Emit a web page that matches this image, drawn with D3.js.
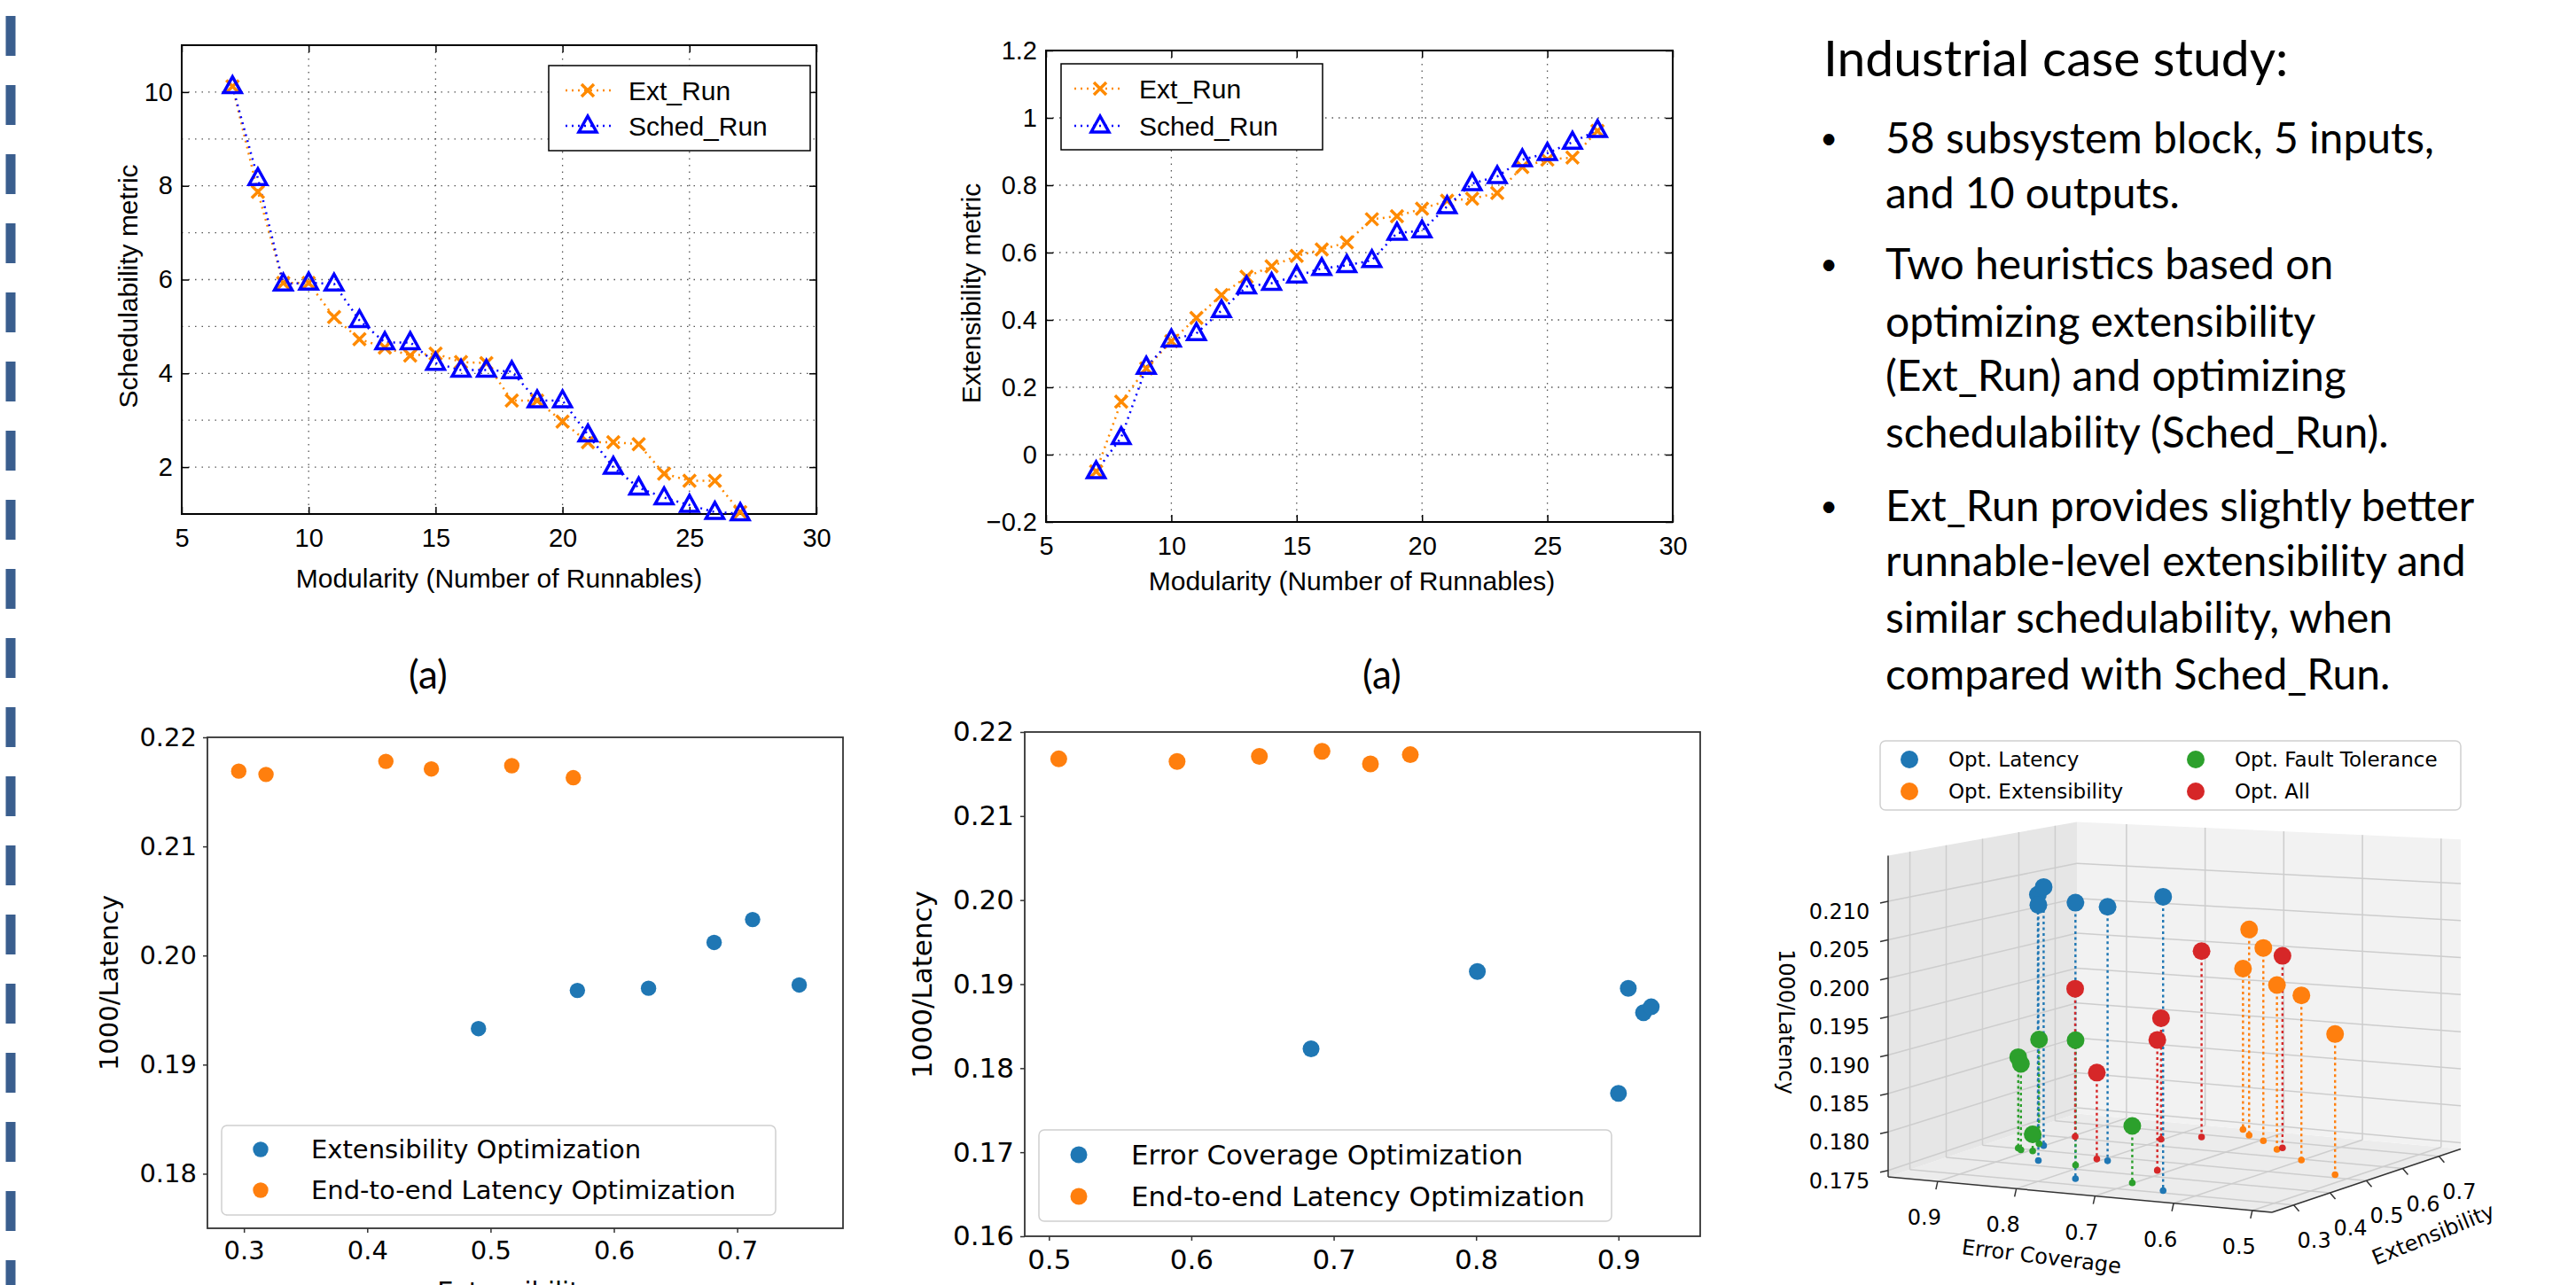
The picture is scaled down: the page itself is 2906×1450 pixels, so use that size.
<!DOCTYPE html>
<html>
<head>
<meta charset="utf-8">
<script src="https://cdn.jsdelivr.net/npm/d3@7"></script>
<style>
  html, body { margin: 0; padding: 0; background: #fff; }
  svg { display: block; }
  .matlab text { font-family: "Liberation Sans", Arial, sans-serif; font-size: 30px; fill: #000; }
  .matlab .tick text { font-size: 29px; }
  .mpl text { font-family: "DejaVu Sans", sans-serif; fill: #000; }
  .slide text { font-family: Lato, "Open Sans", sans-serif; fill: #000; }
</style>
</head>
<body>
<div id="slide"></div>
<script>
// ---------------- data ----------------
const runnables = [7, 8, 9, 10, 11, 12, 13, 14, 15, 16, 17, 18, 19, 20, 21, 22, 23, 24, 25, 26, 27];

// (a) schedulability metric
const schedExtRun   = [10.12, 7.87, 5.93, 5.93, 5.20, 4.73, 4.55, 4.38, 4.42, 4.24, 4.22, 3.42, 3.42, 2.97, 2.53, 2.53, 2.49, 1.86, 1.71, 1.71, 1.04];
const schedSchedRun = [10.12, 8.16, 5.91, 5.93, 5.91, 5.13, 4.66, 4.66, 4.22, 4.07, 4.07, 4.04, 3.42, 3.42, 2.69, 2.00, 1.56, 1.35, 1.19, 1.04, 1.01];

// (a) extensibility metric
const extExtRun   = [-0.05, 0.157, 0.256, 0.337, 0.406, 0.474, 0.528, 0.559, 0.590, 0.609, 0.630, 0.699, 0.708, 0.730, 0.754, 0.760, 0.777, 0.854, 0.876, 0.882, 0.961];
const extSchedRun = [-0.05, 0.051, 0.260, 0.341, 0.360, 0.428, 0.499, 0.509, 0.531, 0.553, 0.562, 0.577, 0.658, 0.665, 0.737, 0.805, 0.826, 0.876, 0.895, 0.928, 0.963];

// latency vs extensibility
const extOptExt = [0.4902, 0.5704, 0.6281, 0.6813, 0.7125, 0.7503];
const extOptLat = [0.1933, 0.1968, 0.1970, 0.2012, 0.2033, 0.1973];
const latOptExt = [0.2958, 0.3179, 0.4151, 0.4520, 0.5172, 0.5671];
const latOptLatA = [0.2169, 0.2166, 0.2178, 0.2171, 0.2174, 0.2163];

// latency vs error coverage
const ecOptEc  = [0.6841, 0.8009, 0.9069, 0.9176, 0.9230, 0.9000];
const ecOptLat = [0.1823, 0.1915, 0.1895, 0.1866, 0.1873, 0.1770];
const latOptEc   = [0.5069, 0.5900, 0.6478, 0.6918, 0.7258, 0.7538];
const latOptLatB = [0.2168, 0.2165, 0.2171, 0.2177, 0.2162, 0.2173];

// 3d scatter: error coverage, extensibility, 1000/latency
const optLatency3d = { ec: [0.901, 0.930, 0.862, 0.771, 0.792, 0.648], ext: [0.534, 0.581, 0.435, 0.340, 0.474, 0.315], lat: [0.2094, 0.2077, 0.2082, 0.2100, 0.2080, 0.2117] };
const optExt3d     = { ec: [0.727, 0.696, 0.750, 0.657, 0.601, 0.524], ext: [0.723, 0.695, 0.756, 0.648, 0.594, 0.520], lat: [0.2026, 0.2006, 0.1966, 0.1964, 0.1961, 0.1925] };
const optFault3d   = { ec: [0.911, 0.811, 0.919, 0.911, 0.896, 0.702], ext: [0.543, 0.427, 0.503, 0.493, 0.493, 0.347], lat: [0.1884, 0.1907, 0.1865, 0.1858, 0.1764, 0.1815] };
const optAll3d     = { ec: [0.769, 0.656, 0.896, 0.803, 0.714, 0.808], ext: [0.683, 0.661, 0.610, 0.645, 0.442, 0.479], lat: [0.1998, 0.2002, 0.1946, 0.1908, 0.1913, 0.1857] };

const runTicks = [5, 10, 15, 20, 25, 30];
const runGrid = [10, 15, 20, 25];
const schedTicks = [2, 4, 6, 8, 10];
const schedGrid = [2, 3, 4, 5, 6, 7, 8, 9, 10];
const extTicks = [-0.2, 0, 0.2, 0.4, 0.6, 0.8, 1, 1.2];
const extGrid = [0, 0.2, 0.4, 0.6, 0.8, 1];
const extensibilityTicks = [0.3, 0.4, 0.5, 0.6, 0.7];
const coverageTicks = [0.5, 0.6, 0.7, 0.8, 0.9];
const latTicksA = [0.18, 0.19, 0.20, 0.21, 0.22];
const latTicksB = [0.16, 0.17, 0.18, 0.19, 0.20, 0.21, 0.22];
const latTicks3d = [0.175, 0.180, 0.185, 0.190, 0.195, 0.200, 0.205, 0.210];

const ML_ORANGE = "#ff8a00", ML_BLUE = "#0000ff";
const C_BLUE = "#1f77b4", C_ORANGE = "#ff7f0e", C_GREEN = "#2ca02c", C_RED = "#d62728";

const svg = d3.select("#slide").append("svg").attr("width", 2906).attr("height", 1450);
svg.append("rect").attr("width", 2906).attr("height", 1450).attr("fill", "#fff");

// dashed divider on the left edge
svg.append("line")
    .attr("x1", 12).attr("x2", 12).attr("y1", 18).attr("y2", 1450)
    .attr("stroke", "#3a5e8e").attr("stroke-width", 11).attr("stroke-dasharray", "45,33");

/*
 * MATLAB-style line chart (top row)
 */
function matlabPanel(cfg) {
    const g = svg.append("g").attr("class", "matlab");
    const x = d3.scaleLinear().domain([5, 30]).range([cfg.left, cfg.right]);
    const y = d3.scaleLinear().domain(cfg.yDomain).range([cfg.bottom, cfg.top]);

    // dotted grid
    g.append("g").selectAll("line").data(cfg.yGrid).join("line")
        .attr("x1", cfg.left).attr("x2", cfg.right)
        .attr("y1", d => y(d)).attr("y2", d => y(d))
        .attr("stroke", "#555").attr("stroke-width", 1.3).attr("stroke-dasharray", "1.5,6");
    g.append("g").selectAll("line").data(runGrid).join("line")
        .attr("x1", d => x(d)).attr("x2", d => x(d))
        .attr("y1", cfg.top).attr("y2", cfg.bottom)
        .attr("stroke", "#555").attr("stroke-width", 1.3).attr("stroke-dasharray", "1.5,6");

    // axes, ticks pointing inward
    g.append("g").attr("transform", `translate(0,${cfg.bottom})`)
        .call(d3.axisBottom(x).tickValues(runTicks).tickSizeInner(-8).tickSizeOuter(0).tickPadding(cfg.xPad));
    g.append("g").attr("transform", `translate(0,${cfg.top})`)
        .call(d3.axisTop(x).tickValues(runTicks).tickSizeInner(-8).tickSizeOuter(0).tickFormat(""));
    g.append("g").attr("transform", `translate(${cfg.left},0)`)
        .call(d3.axisLeft(y).tickValues(cfg.yTicks).tickFormat(cfg.fmt).tickSizeInner(-8).tickSizeOuter(0).tickPadding(10));
    g.append("g").attr("transform", `translate(${cfg.right},0)`)
        .call(d3.axisRight(y).tickValues(cfg.yTicks).tickSizeInner(-8).tickSizeOuter(0).tickFormat(""));
    g.selectAll(".domain").remove();
    g.selectAll(".tick line").attr("stroke-width", 1.5);

    g.append("rect")
        .attr("x", cfg.left).attr("y", cfg.top)
        .attr("width", cfg.right - cfg.left).attr("height", cfg.bottom - cfg.top)
        .attr("fill", "none").attr("stroke", "#000").attr("stroke-width", 2);

    const line = d3.line().x((d, i) => x(runnables[i])).y(d => y(d));
    const cross = "M-7,-7L7,7M-7,7L7,-7";
    const tri = "M0,-11L10,7L-10,7Z";

    g.append("path").datum(cfg.ext).attr("d", line)
        .attr("fill", "none").attr("stroke", ML_ORANGE).attr("stroke-width", 2.5).attr("stroke-dasharray", "2,5");
    g.append("path").datum(cfg.sched).attr("d", line)
        .attr("fill", "none").attr("stroke", ML_BLUE).attr("stroke-width", 2.5).attr("stroke-dasharray", "2,5");

    g.append("g").selectAll("path").data(cfg.ext).join("path")
        .attr("transform", (d, i) => `translate(${x(runnables[i])},${y(d)})`)
        .attr("d", cross).attr("stroke", ML_ORANGE).attr("stroke-width", 3.5).attr("fill", "none");
    g.append("g").selectAll("path").data(cfg.sched).join("path")
        .attr("transform", (d, i) => `translate(${x(runnables[i])},${y(d)})`)
        .attr("d", tri).attr("stroke", ML_BLUE).attr("stroke-width", 3.5).attr("fill", "none");

    // legend
    const lg = cfg.legend;
    g.append("rect").attr("x", lg.x).attr("y", lg.y).attr("width", lg.w).attr("height", lg.h)
        .attr("fill", "#fff").attr("stroke", "#000").attr("stroke-width", 1.5);
    const items = [
        { name: "Ext_Run", color: ML_ORANGE, mark: cross },
        { name: "Sched_Run", color: ML_BLUE, mark: tri }
    ];
    items.forEach((it, i) => {
        const yy = lg.rows[i];
        g.append("line").attr("x1", lg.s0).attr("x2", lg.s1).attr("y1", yy).attr("y2", yy)
            .attr("stroke", it.color).attr("stroke-width", 2.5).attr("stroke-dasharray", "2,5");
        g.append("path").attr("transform", `translate(${lg.mx},${yy})`).attr("d", it.mark)
            .attr("stroke", it.color).attr("stroke-width", 3.5).attr("fill", "none");
        g.append("text").attr("x", lg.tx).attr("y", yy).attr("dominant-baseline", "central").text(it.name);
    });

    g.append("text").attr("transform", `translate(${cfg.yLabel[0]},${cfg.yLabel[1]}) rotate(-90)`)
        .attr("text-anchor", "middle").attr("dominant-baseline", "central").text(cfg.yTitle);
    g.append("text").attr("x", cfg.xLabel[0]).attr("y", cfg.xLabel[1])
        .attr("text-anchor", "middle").attr("dominant-baseline", "central")
        .text("Modularity (Number of Runnables)");
}

matlabPanel({
    left: 205, right: 921, top: 51, bottom: 580,
    yDomain: [1, 11], yTicks: schedTicks, yGrid: schedGrid, fmt: d => String(d), xPad: 16,
    ext: schedExtRun, sched: schedSchedRun,
    legend: { x: 619, y: 74, w: 295, h: 96, s0: 638, s1: 690, mx: 663, tx: 709, rows: [102, 142] },
    yTitle: "Schedulability metric", yLabel: [144, 323], xLabel: [563, 652]
});

matlabPanel({
    left: 1180, right: 1887, top: 57, bottom: 589,
    yDomain: [-0.2, 1.2], yTicks: extTicks, yGrid: extGrid,
    fmt: d => (d < 0 ? "\u2212" : "") + String(Math.abs(d)), xPad: 16,
    ext: extExtRun, sched: extSchedRun,
    legend: { x: 1197, y: 72, w: 295, h: 97, s0: 1212, s1: 1268, mx: 1241, tx: 1285, rows: [100, 142] },
    yTitle: "Extensibility metric", yLabel: [1095, 331], xLabel: [1525, 655]
});

/*
 * matplotlib-style scatter (bottom row)
 */
function mplPanel(cfg) {
    const g = svg.append("g").attr("class", "mpl");
    const x = d3.scaleLinear().domain(cfg.xDomain).range([cfg.left, cfg.right]);
    const y = d3.scaleLinear().domain(cfg.yDomain).range([cfg.bottom, cfg.top]);

    g.append("g").attr("transform", `translate(0,${cfg.bottom})`)
        .call(d3.axisBottom(x).tickValues(cfg.xTicks).tickFormat(d3.format(".1f")).tickSize(5).tickPadding(cfg.xPad));
    g.append("g").attr("transform", `translate(${cfg.left},0)`)
        .call(d3.axisLeft(y).tickValues(cfg.yTicks).tickFormat(d3.format(".2f")).tickSize(5).tickPadding(7));
    g.selectAll(".domain").remove();
    g.selectAll(".tick line").attr("stroke", "#333").attr("stroke-width", 1.5);
    g.selectAll(".tick text").style("font-size", cfg.fs + "px");

    g.append("rect")
        .attr("x", cfg.left).attr("y", cfg.top)
        .attr("width", cfg.right - cfg.left).attr("height", cfg.bottom - cfg.top)
        .attr("fill", "none").attr("stroke", "#333").attr("stroke-width", 1.8);

    g.append("g").selectAll("circle").data(cfg.blueX).join("circle")
        .attr("cx", d => x(d)).attr("cy", (d, i) => y(cfg.blueY[i])).attr("r", cfg.r).attr("fill", C_BLUE);
    g.append("g").selectAll("circle").data(cfg.orangeX).join("circle")
        .attr("cx", d => x(d)).attr("cy", (d, i) => y(cfg.orangeY[i])).attr("r", cfg.r).attr("fill", C_ORANGE);

    const lg = cfg.legend;
    g.append("rect").attr("x", lg.x).attr("y", lg.y).attr("width", lg.w).attr("height", lg.h)
        .attr("rx", 6).attr("fill", "#fff").attr("fill-opacity", 0.8)
        .attr("stroke", "#d0d0d0").attr("stroke-width", 1.5);
    [[cfg.blueName, C_BLUE], ["End-to-end Latency Optimization", C_ORANGE]].forEach((it, i) => {
        g.append("circle").attr("cx", lg.mx).attr("cy", lg.rows[i]).attr("r", cfg.r).attr("fill", it[1]);
        g.append("text").attr("x", lg.tx).attr("y", lg.rows[i]).attr("dominant-baseline", "central")
            .style("font-size", cfg.fs + "px").text(it[0]);
    });

    g.append("text").attr("transform", `translate(${cfg.yLabel[0]},${cfg.yLabel[1]}) rotate(-90)`)
        .attr("text-anchor", "middle").attr("dominant-baseline", "central")
        .style("font-size", cfg.fs + "px").text("1000/Latency");
    if (cfg.xTitle) {
        g.append("text").attr("x", cfg.xTitle[1]).attr("y", cfg.xTitle[2])
            .attr("text-anchor", "middle").style("font-size", cfg.fs + "px").text(cfg.xTitle[0]);
    }
}

mplPanel({
    left: 234, right: 951, top: 832, bottom: 1386,
    xDomain: [0.2704, 0.7858], yDomain: [0.175, 0.22],
    xTicks: extensibilityTicks, yTicks: latTicksA, fs: 29, r: 8.7, xPad: 9,
    blueX: extOptExt, blueY: extOptLat, orangeX: latOptExt, orangeY: latOptLatA,
    blueName: "Extensibility Optimization",
    legend: { x: 250, y: 1270, w: 625, h: 101, mx: 294, tx: 351, rows: [1297, 1343] },
    yLabel: [123, 1109], xTitle: ["Extensibility", 582, 1467]
});

mplPanel({
    left: 1156, right: 1918, top: 826, bottom: 1395,
    xDomain: [0.483, 0.9574], yDomain: [0.16, 0.22],
    xTicks: coverageTicks, yTicks: latTicksB, fs: 31, r: 9.5, xPad: 10,
    blueX: ecOptEc, blueY: ecOptLat, orangeX: latOptEc, orangeY: latOptLatB,
    blueName: "Error Coverage Optimization",
    legend: { x: 1172, y: 1275, w: 646, h: 103, mx: 1217, tx: 1276, rows: [1303, 1350] },
    yLabel: [1040, 1111]
});

// "(a)" captions
const captions = svg.append("g").attr("class", "slide");
[483, 1559].forEach(cx => {
    captions.append("text").attr("x", cx).attr("y", 777).attr("text-anchor", "middle")
        .style("font-size", "44px").text("(a)");
});

/*
 * 3d scatter with stems (bottom right)
 */
function scatter3d() {
    const g = svg.append("g").attr("class", "mpl");
    // floor corners: front, left (max coverage), right (max extensibility); column heights
    const F = [2563, 1368], L = [2130, 1328], R = [2776, 1296.5];
    const HF = 380, HL = 362.6, HR = 349.3, HB = 329.1;
    const ecS = d3.scaleLinear().domain([0.475, 0.963]).range([0, 1]);
    const extS = d3.scaleLinear().domain([0.24, 0.76]).range([0, 1]);
    const latS = d3.scaleLinear().domain([0.17416, 0.21596]).range([0, 1]);

    function p(u, v, w) {
        const xx = F[0] + u * (L[0] - F[0]) + v * (R[0] - F[0]);
        const yf = F[1] + u * (L[1] - F[1]) + v * (R[1] - F[1]);
        const h = HF * (1 - u) * (1 - v) + HL * u * (1 - v) + HR * (1 - u) * v + HB * u * v;
        return [xx, yf - w * h];
    }
    const poly = pts => "M" + pts.map(q => q.join(",")).join("L") + "Z";

    // panes
    g.append("path").attr("d", poly([p(0, 0, 0), p(1, 0, 0), p(1, 1, 0), p(0, 1, 0)])).attr("fill", "#ececec");
    g.append("path").attr("d", poly([p(1, 0, 0), p(1, 1, 0), p(1, 1, 1), p(1, 0, 1)])).attr("fill", "#e6e6e6");
    g.append("path").attr("d", poly([p(1, 1, 0), p(0, 1, 0), p(0, 1, 1), p(1, 1, 1)])).attr("fill", "#f2f2f2");

    const grid = g.append("g").attr("stroke", "#cdcdcd").attr("stroke-width", 1.5).attr("fill", "none");
    const seg = (a, b) => grid.append("line").attr("x1", a[0]).attr("y1", a[1]).attr("x2", b[0]).attr("y2", b[1]);
    extensibilityTicks.forEach(t => {
        const v = extS(t);
        seg(p(1, v, 0), p(1, v, 1));
        seg(p(0, v, 0), p(1, v, 0));
    });
    coverageTicks.forEach(t => {
        const u = ecS(t);
        seg(p(u, 1, 0), p(u, 1, 1));
        seg(p(u, 0, 0), p(u, 1, 0));
    });
    latTicks3d.forEach(t => {
        const w = latS(t);
        seg(p(1, 0, w), p(1, 1, w));
        seg(p(1, 1, w), p(0, 1, w));
    });

    // axis lines
    const ax = g.append("g").attr("stroke", "#333").attr("stroke-width", 1.5);
    const axl = (a, b) => ax.append("line").attr("x1", a[0]).attr("y1", a[1]).attr("x2", b[0]).attr("y2", b[1]);
    axl(p(1, 0, 0), p(1, 0, 1));
    axl(p(1, 0, 0), p(0, 0, 0));
    axl(p(0, 0, 0), p(0, 1, 0));

    latTicks3d.forEach(t => {
        const q = p(1, 0, latS(t));
        axl(q, [q[0] - 9, q[1] + 2]);
        g.append("text").attr("x", 2075).attr("y", q[1] + 12).attr("text-anchor", "middle")
            .attr("dominant-baseline", "central").style("font-size", "24px").text(d3.format(".3f")(t));
    });
    coverageTicks.forEach(t => {
        const q = p(ecS(t), 0, 0);
        axl(q, [q[0] - 2, q[1] + 9]);
        g.append("text").attr("x", q[0] - 15).attr("y", q[1] + 41).attr("text-anchor", "middle")
            .attr("dominant-baseline", "central").style("font-size", "24px").text(d3.format(".1f")(t));
    });
    extensibilityTicks.forEach(t => {
        const q = p(0, extS(t), 0);
        axl(q, [q[0] + 6, q[1] + 7]);
        g.append("text").attr("x", q[0] + 23).attr("y", q[1] + 40).attr("text-anchor", "middle")
            .attr("dominant-baseline", "central").style("font-size", "24px").text(d3.format(".1f")(t));
    });

    g.append("text").attr("transform", "translate(2303,1418) rotate(7)")
        .attr("text-anchor", "middle").attr("dominant-baseline", "central").style("font-size", "24px")
        .text("Error Coverage");
    g.append("text").attr("transform", "translate(2745,1393) rotate(-22)")
        .attr("text-anchor", "middle").attr("dominant-baseline", "central").style("font-size", "24px")
        .text("Extensibility");
    g.append("text").attr("transform", "translate(2015,1153) rotate(90)")
        .attr("text-anchor", "middle").attr("dominant-baseline", "central").style("font-size", "24px")
        .text("1000/Latency");

    // points: stems and floor dots first, then the markers back to front
    const groups = [
        { s: optLatency3d, c: C_BLUE },
        { s: optExt3d, c: C_ORANGE },
        { s: optFault3d, c: C_GREEN },
        { s: optAll3d, c: C_RED }
    ];
    const pts = [];
    groups.forEach(gr => {
        gr.s.ec.forEach((ec, i) => {
            const u = ecS(ec), v = extS(gr.s.ext[i]);
            pts.push({ c: gr.c, depth: u + v, top: p(u, v, latS(gr.s.lat[i])), bot: p(u, v, 0) });
        });
    });
    g.append("g").selectAll("line").data(pts).join("line")
        .attr("x1", d => d.top[0]).attr("y1", d => d.top[1]).attr("x2", d => d.bot[0]).attr("y2", d => d.bot[1])
        .attr("stroke", d => d.c).attr("stroke-width", 2.4).attr("stroke-dasharray", "3,3.5");
    g.append("g").selectAll("circle").data(pts).join("circle")
        .attr("cx", d => d.bot[0]).attr("cy", d => d.bot[1]).attr("r", 3.8).attr("fill", d => d.c);
    g.append("g").selectAll("circle").data(pts.slice().sort((a, b) => b.depth - a.depth)).join("circle")
        .attr("cx", d => d.top[0]).attr("cy", d => d.top[1]).attr("r", 10).attr("fill", d => d.c);

    // legend
    g.append("rect").attr("x", 2121).attr("y", 836).attr("width", 655).attr("height", 78)
        .attr("rx", 6).attr("fill", "#fff").attr("stroke", "#d0d0d0").attr("stroke-width", 1.5);
    const leg = [
        ["Opt. Latency", C_BLUE, 2154, 857], ["Opt. Extensibility", C_ORANGE, 2154, 893],
        ["Opt. Fault Tolerance", C_GREEN, 2477, 857], ["Opt. All", C_RED, 2477, 893]
    ];
    leg.forEach(l => {
        g.append("circle").attr("cx", l[2]).attr("cy", l[3]).attr("r", 10).attr("fill", l[1]);
        g.append("text").attr("x", l[2] + 44).attr("y", l[3]).attr("dominant-baseline", "central")
            .style("font-size", "23px").text(l[0]);
    });
}
scatter3d();

// slide text on the right
const txt = svg.append("g").attr("class", "slide");
txt.append("text").attr("x", 2057).attr("y", 64).attr("dominant-baseline", "central")
    .style("font-size", "57px").text("Industrial case study:");
const bulletLines = [
    ["58 subsystem block, 5 inputs,", 154, true],
    ["and 10 outputs.", 216, false],
    ["Two heuristics based on", 296, true],
    ["optimizing extensibility", 361, false],
    ["(Ext_Run) and optimizing", 422, false],
    ["schedulability (Sched_Run).", 486, false],
    ["Ext_Run provides slightly better", 569, true],
    ["runnable-level extensibility and", 631, false],
    ["similar schedulability, when", 695, false],
    ["compared with Sched_Run.", 759, false]
];
bulletLines.forEach(b => {
    if (b[2]) {
        txt.append("text").attr("x", 2063).attr("y", b[1]).attr("text-anchor", "middle")
            .attr("dominant-baseline", "central").style("font-size", "34px").text("\u2022");
    }
    txt.append("text").attr("x", 2127).attr("y", b[1]).attr("dominant-baseline", "central")
        .style("font-size", "48px").text(b[0]);
});
</script>
</body>
</html>
